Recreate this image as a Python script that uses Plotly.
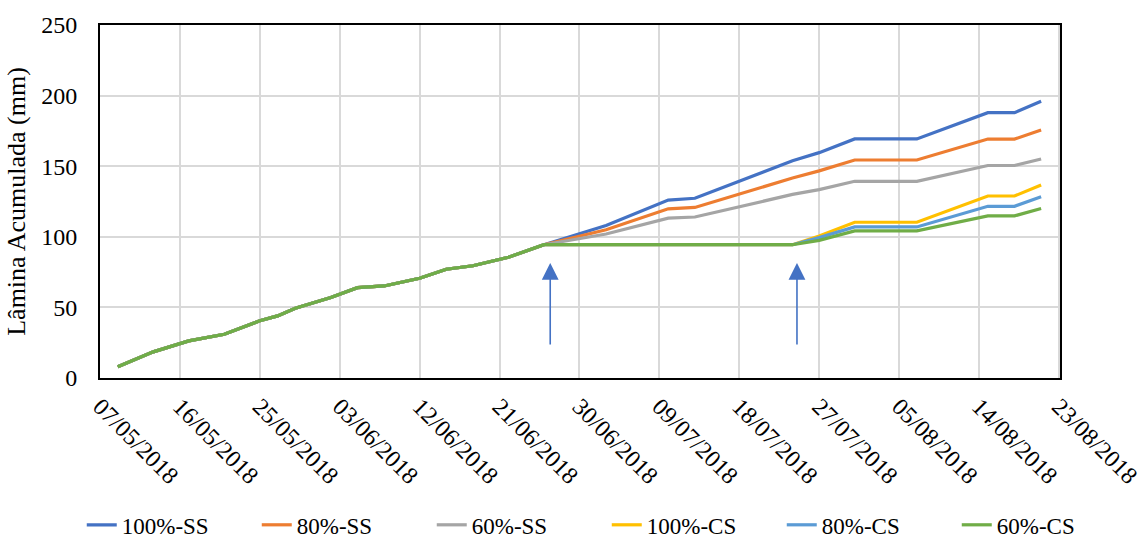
import plotly.graph_objects as go

# Measurement dates
dates = [
    "2018-05-09", "2018-05-13", "2018-05-17", "2018-05-21", "2018-05-25",
    "2018-05-27", "2018-05-29", "2018-06-02", "2018-06-05", "2018-06-08",
    "2018-06-12", "2018-06-15", "2018-06-18", "2018-06-22", "2018-06-26",
    "2018-07-03", "2018-07-10", "2018-07-13", "2018-07-24", "2018-07-27",
    "2018-07-31", "2018-08-07", "2018-08-15", "2018-08-18", "2018-08-21",
]

# Common accumulated depth before the treatments split (mm)
common = [8, 18.5, 26.3, 31, 40.5, 44, 49.4, 57, 64, 65.2, 70.6, 77, 79.5, 85.5, 94.4]

# Accumulated depth after the split, per treatment (mm)
ss_100 = [108, 126, 127.3, 153.9, 159.6, 169.3, 169.3, 187.9, 187.9, 196]
ss_80 = [105, 119.8, 120.8, 141.6, 146.7, 154.4, 154.4, 169.2, 169.2, 175.6]
ss_60 = [102, 113.2, 114, 130, 133.4, 139.3, 139.3, 150.5, 150.5, 155.1]
cs_hold = [94.4, 94.4, 94.4, 94.4]
cs_100 = [100.5, 110.3, 110.3, 128.9, 128.9, 136.7]
cs_80 = [99.4, 107, 107, 121.6, 121.6, 128.4]
cs_60 = [97.5, 104.2, 104.2, 114.8, 114.8, 120]

names = ["100%-SS", "80%-SS", "60%-SS", "100%-CS", "80%-CS", "60%-CS"]
colors = ["#4472C4", "#ED7D31", "#A5A5A5", "#FFC000", "#5B9BD5", "#70AD47"]
series = [
    common + ss_100,
    common + ss_80,
    common + ss_60,
    common + cs_hold + cs_100,
    common + cs_hold + cs_80,
    common + cs_hold + cs_60,
]

# Arrows marking the start of each treatment phase
arrow_x = ["2018-06-26 17:00", "2018-07-24 12:00"]
arrow_tip = [81.4, 81.4]
arrow_tail = [22.7, 22.7]

FONT = "Liberation Serif, Times New Roman, serif"

fig = go.Figure()
for name, color, y in zip(names, colors, series):
    fig.add_trace(go.Scatter(
        x=dates, y=y, name=name, mode="lines",
        line=dict(color=color, width=3.2),
    ))

for x, tip, tail in zip(arrow_x, arrow_tip, arrow_tail):
    fig.add_annotation(
        x=x, y=tip, ax=x, ay=tail, xref="x", yref="y", axref="x", ayref="y",
        showarrow=True, arrowhead=2, arrowsize=2.1, arrowwidth=1.6,
        arrowcolor="#4472C4", text="",
    )

fig.update_layout(
    width=1142, height=538,
    margin=dict(l=100, r=82, t=25, b=160, autoexpand=False),
    paper_bgcolor="white", plot_bgcolor="white",
    font=dict(family=FONT, size=24, color="black"),
    showlegend=True,
    legend=dict(
        orientation="h", x=-0.019, xanchor="left", y=-0.416, yanchor="middle",
        font=dict(family=FONT, size=23, color="black"),
        entrywidth=130, itemwidth=30, tracegroupgap=0,
    ),
    xaxis=dict(
        type="date",
        range=["2018-05-07", "2018-08-23 03:00"],
        tick0="2018-05-07", dtick=9 * 86400000,
        tickformat="%d/%m/%Y", tickangle=45,
        showgrid=True, gridcolor="#D9D9D9", gridwidth=1.5,
        showline=True, linecolor="black", linewidth=2, mirror=True,
        ticks="", ticklabelstandoff=3, automargin=False,
        ticklabeloverflow="allow",
        tickfont=dict(family=FONT, size=24),
    ),
    yaxis=dict(
        range=[0, 250], dtick=50,
        showgrid=True, gridcolor="#D9D9D9", gridwidth=1.5,
        showline=True, linecolor="black", linewidth=2, mirror=True,
        ticks="", ticklabelstandoff=16, automargin=False,
        tickfont=dict(family=FONT, size=24),
        title=dict(text="Lâmina Acumulada (mm)", font=dict(family=FONT, size=26), standoff=8),
        zeroline=False,
    ),
)

fig.write_html("out.html")
